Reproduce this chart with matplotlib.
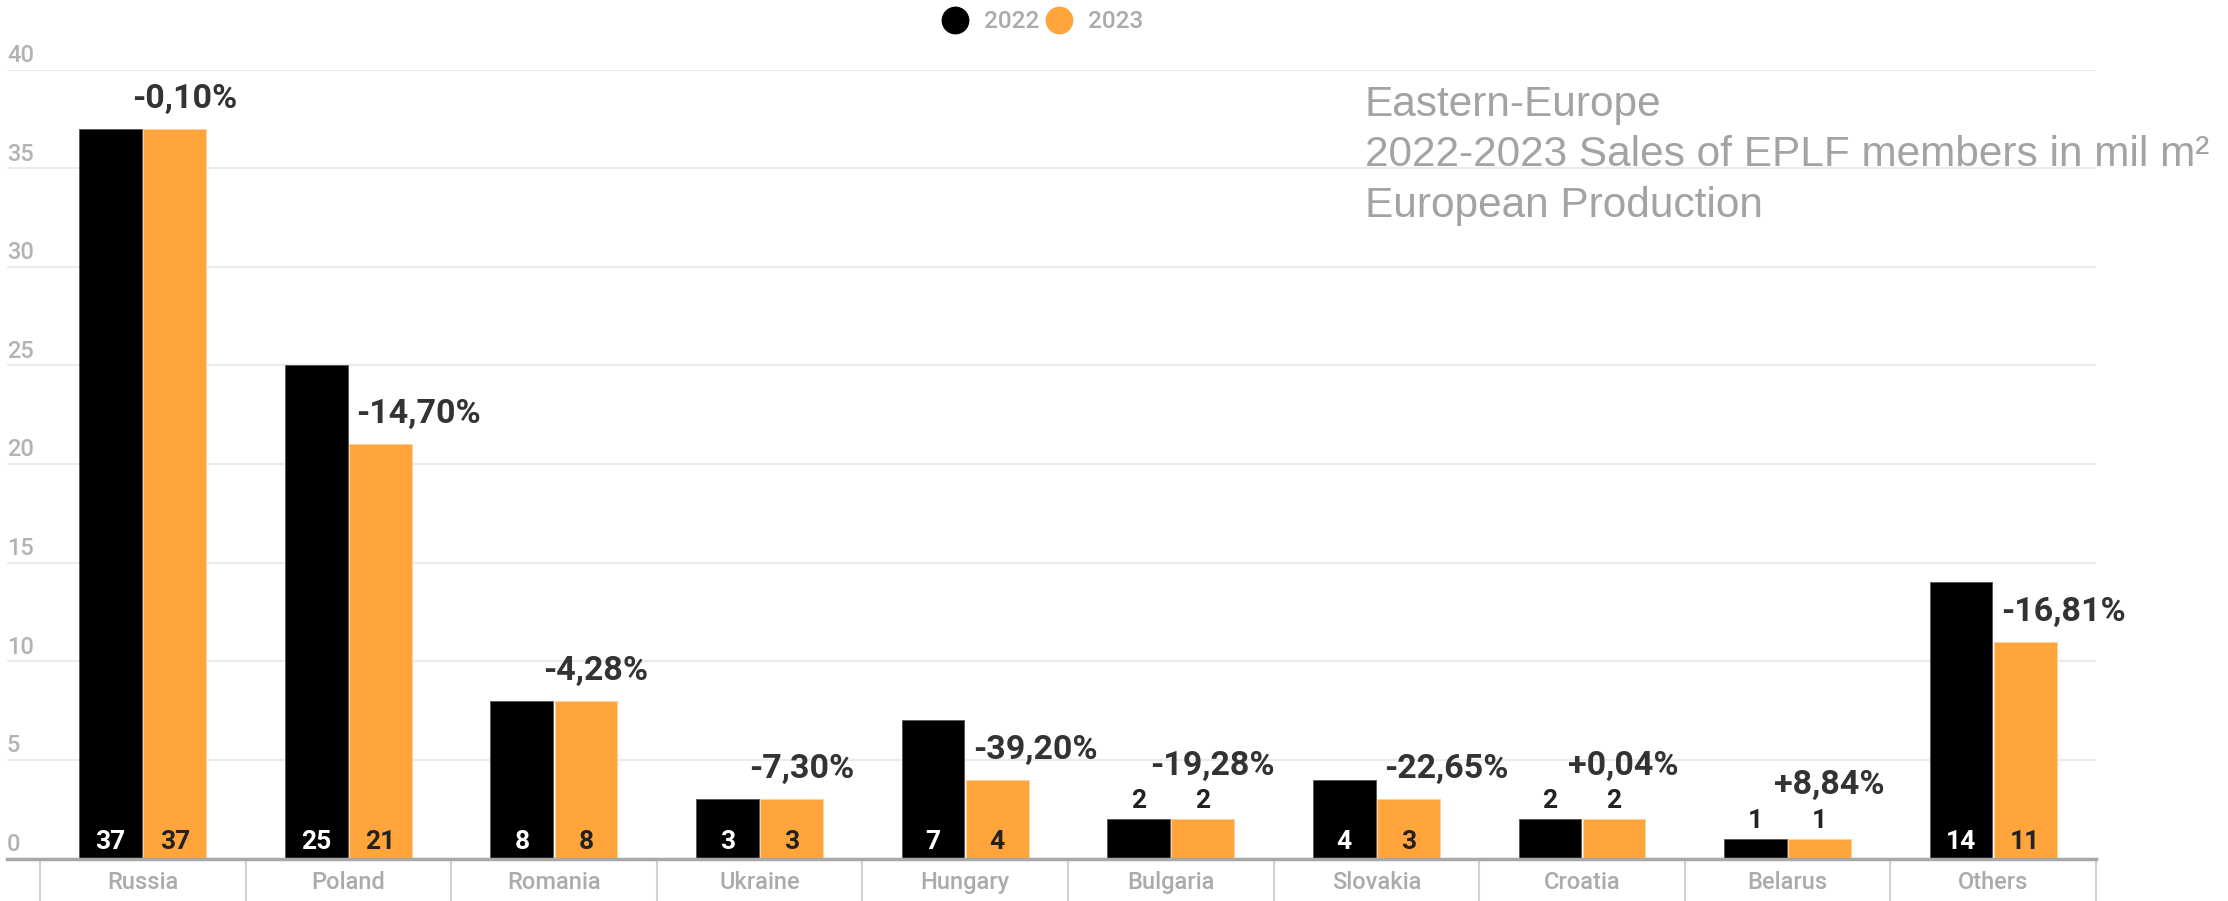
import matplotlib
matplotlib.use('Agg')
import matplotlib.pyplot as plt
import numpy as np
from matplotlib.lines import Line2D

countries = ['Russia', 'Poland', 'Romania', 'Ukraine', 'Hungary',
             'Bulgaria', 'Slovakia', 'Croatia', 'Belarus', 'Others']
sales_2022 = [37, 25, 8, 3, 7, 2, 4, 2, 1, 14]
sales_2023 = [37, 21, 8, 3, 4, 2, 3, 2, 1, 11]
changes = ['-0,10%', '-14,70%', '-4,28%', '-7,30%', '-39,20%',
           '-19,28%', '-22,65%', '+0,04%', '+8,84%', '-16,81%']
y_ticks = [0, 5, 10, 15, 20, 25, 30, 35, 40]

BLACK = '#000000'
ORANGE = '#ffa53b'

plt.rcParams['font.family'] = ['Roboto', 'DejaVu Sans']


def main():
    fig = plt.figure(figsize=(22.28, 9.01), dpi=100)
    ax = fig.add_axes([7 / 2228, (901 - 858.5) / 901,
                       (2096 - 7) / 2228, (858.5 - 69.6) / 901])

    x = np.arange(len(countries))
    w = 0.305
    off = 0.156
    ax.bar(x - off, sales_2022, w, color=BLACK, edgecolor='#555555', linewidth=0.6, zorder=3)
    ax.bar(x + off, sales_2023, w, color=ORANGE, edgecolor='#ffd19a', linewidth=0.6, zorder=3)

    ax.set_xlim(-0.66, 9.5)
    ax.set_ylim(0, 40)

    # grid + axis
    ax.set_yticks(y_ticks)
    ax.set_yticklabels([])
    ax.tick_params(axis='y', length=0)
    ax.yaxis.grid(True, color='#ebebeb', linewidth=1.5, zorder=0)
    for s in ['top', 'right', 'left']:
        ax.spines[s].set_visible(False)
    ax.spines['bottom'].set_color('#a8a8a8')
    ax.spines['bottom'].set_linewidth(2.5)
    ax.spines['bottom'].set_zorder(4)

    for t in y_ticks:
        ax.annotate(str(t), xy=(0, t), xycoords=ax.get_yaxis_transform(),
                    xytext=(0, 5.5), textcoords='offset points',
                    ha='left', va='baseline', fontsize=17, color='#b3b3b3',
                    fontweight='medium')

    # category labels and separators
    ax.set_xticks(x)
    ax.set_xticklabels(countries, fontsize=17, color='#ababab', fontweight='medium')
    ax.tick_params(axis='x', length=0, pad=9)
    ax.vlines(np.arange(-0.5, len(countries), 1), -2.4, 0, colors='#d2d2d2',
              linewidth=1.5, clip_on=False)

    # value labels
    for i in range(len(countries)):
        for xv, v, col in [(x[i] - off, sales_2022[i], 'white'),
                           (x[i] + off, sales_2023[i], '#222222')]:
            if v >= 3:
                ax.annotate(str(v), xy=(xv, 0), xytext=(0, 7),
                            textcoords='offset points', ha='center', va='baseline',
                            fontsize=19, fontweight='bold', color=col, zorder=5)
            else:
                ax.annotate(str(v), xy=(xv, v), xytext=(0, 8),
                            textcoords='offset points', ha='center', va='baseline',
                            fontsize=19, fontweight='bold', color='#222222', zorder=5)
        lift = 15 if sales_2023[i] >= 3 else 32
        if sales_2022[i] > sales_2023[i]:
            # keep the label clear of the taller black bar
            ax.annotate(changes[i], xy=(x[i] + off - w / 2, sales_2023[i]),
                        xytext=(5, lift), textcoords='offset points',
                        ha='left', va='baseline', fontsize=24.5,
                        fontweight='bold', color='#333333', zorder=5)
        else:
            ax.annotate(changes[i], xy=(x[i] + off, sales_2023[i]),
                        xytext=(7, lift), textcoords='offset points',
                        ha='center', va='baseline', fontsize=24.5,
                        fontweight='bold', color='#333333', zorder=5)

    # title block
    title_lines = ['Eastern-Europe', '2022-2023 Sales of EPLF members in mil m²',
                   'European Production']
    for k, line in enumerate(title_lines):
        fig.text(1365 / 2228, 1 - (116 + 50.5 * k) / 901, line,
                 family=['Liberation Sans', 'DejaVu Sans'], fontsize=30.5,
                 color='#a3a3a3', ha='left', va='baseline')

    # legend
    handles = [Line2D([], [], marker='o', linestyle='none', markersize=19,
                      markerfacecolor=BLACK, markeredgecolor=BLACK),
               Line2D([], [], marker='o', linestyle='none', markersize=19,
                      markerfacecolor=ORANGE, markeredgecolor=ORANGE)]
    leg = fig.legend(handles, ['2022', '2023'], loc='center',
                     bbox_to_anchor=(1043 / 2228, 1 - 22 / 901), ncol=2,
                     frameon=False, handlelength=1.0, handletextpad=0.7,
                     columnspacing=0.3, prop={'size': 17.5, 'weight': 'medium'})
    for t in leg.get_texts():
        t.set_color('#aaaaaa')

    fig.savefig('out.png', dpi=100, facecolor='white')


if __name__ == "__main__":
    main()
